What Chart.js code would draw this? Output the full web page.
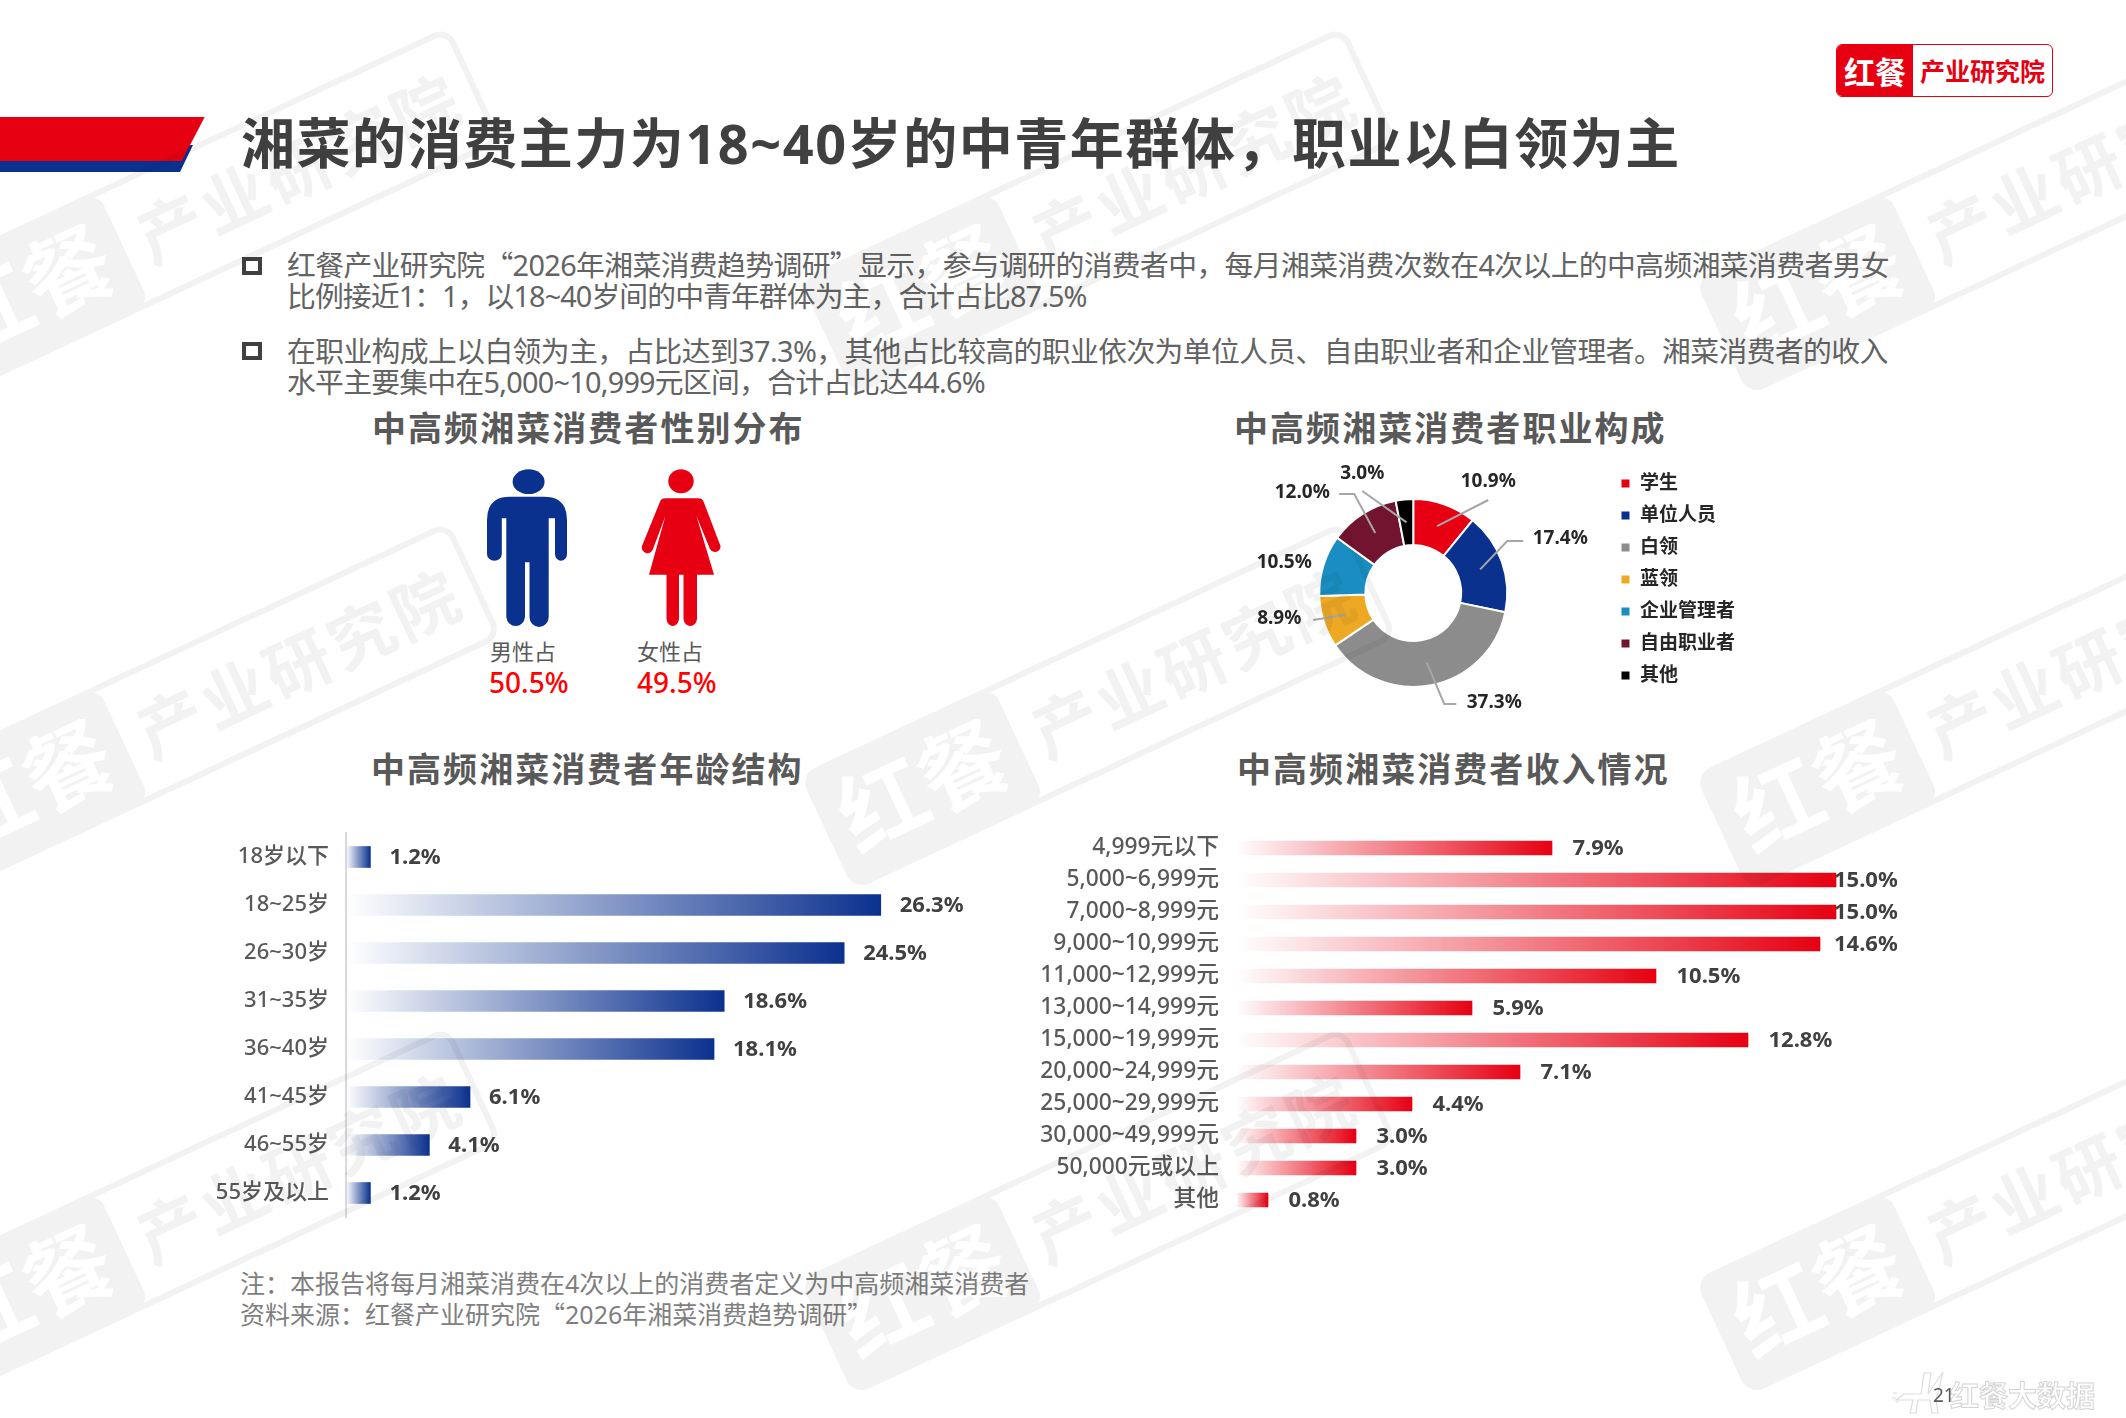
<!DOCTYPE html>
<html lang="zh-CN">
<head>
<meta charset="utf-8">
<title>湘菜的消费主力</title>
<script src="https://cdn.jsdelivr.net/npm/chart.js@4"></script>
<style>
html, body { margin: 0; padding: 0; background: #fff; }
body { width: 2126px; height: 1418px; position: relative; overflow: hidden; font-family: "Noto Sans", "Noto Sans CJK SC", sans-serif; }
.t { position: absolute; white-space: nowrap; line-height: 1; transform: translateY(-50%); }
.q { font-family: "Noto Sans CJK SC"; }
.title { left: 241px; top: 143px; font-size: 54px; font-weight: 700; color: #404040; letter-spacing: 1.55px; }
.body { left: 287px; font-size: 28.8px; color: #636363; letter-spacing: -.6px; }
.sub { font-size: 34px; font-weight: 700; color: #595959; letter-spacing: 2.05px; }
.note { left: 240px; font-size: 25px; color: #7f7f7f; }
.box { position: absolute; left: 242px; width: 12px; height: 10px; border: 4px solid #404040; }
canvas { position: absolute; display: block; }
svg { position: absolute; left: 0; top: 0; }
#wm { mix-blend-mode: multiply; pointer-events: none; }
.logo { position: absolute; left: 1836px; top: 44px; width: 215px; height: 51px; border: 1.5px solid #e60012; border-radius: 6px; background: #fff; overflow: hidden; }
.logo b { position: absolute; top: 0; height: 51px; line-height: 51px; font-family: "Noto Sans CJK SC"; text-align: center; }
.logo .l { left: 0; width: 76px; background: #e60012; color: #fff; font-size: 31px; }
.logo .r { left: 76px; width: 139px; color: #e60012; font-size: 25px; }
</style>
</head>
<body>

<svg width="2126" height="1418">
  <polygon points="0,145 193,145 180,172 0,172" fill="#0b318f"/>
  <polygon points="0,117 204.7,117 181.7,161 0,161" fill="#e60012"/>
  <!-- 男 -->
  <ellipse cx="528.6" cy="481.7" rx="16" ry="12.4" fill="#0b318f"/>
  <path fill="#0b318f" d="M487 520 Q487 496.7 510 496.7 H544 Q567 496.7 567 520 V554 A6 6.7 0 0 1 555 554 V518.3 H548.7 V617 A9.6 10 0 0 1 529.5 617 V562.3 H525 V617 A9.4 10 0 0 1 506.3 617 V518.3 H501.8 V554 A7.4 6.7 0 0 1 487 554 Z"/>
  <!-- 女 -->
  <ellipse cx="681" cy="481.3" rx="12.7" ry="12" fill="#e60012"/>
  <path fill="#e60012" d="M703.6 501.7 L720.5 546 A5.6 5.6 0 0 1 710 549 L696.4 516 L714 574.7 H697 V619 A6.8 8 0 0 1 683.5 619 V574.7 H679 V619 A6.3 8 0 0 1 666.5 619 V574.7 H649 L665.4 516 L653 549 A5.6 5.6 0 0 1 642 546 L660 501.7 Q661 498.3 666 498.3 H698 Q702.5 498.3 703.6 501.7 Z"/>
</svg>

<div class="t title">湘菜的消费主力为18~40岁的中青年群体，职业以白领为主</div>

<div class="box" style="top:256.5px"></div>
<div class="t body" style="top:265px">红餐产业研究院<span class="q">“</span>2026年湘菜消费趋势调研<span class="q">”</span>显示，参与调研的消费者中，每月湘菜消费次数在4次以上的中高频湘菜消费者男女</div>
<div class="t body" style="top:295.5px;letter-spacing:-.89px">比例接近1：1，以18~40岁间的中青年群体为主，合计占比87.5%</div>
<div class="box" style="top:341.5px"></div>
<div class="t body" style="top:351px">在职业构成上以白领为主，占比达到37.3%，其他占比较高的职业依次为单位人员、自由职业者和企业管理者。湘菜消费者的收入</div>
<div class="t body" style="top:381.5px;letter-spacing:-.73px">水平主要集中在5,000~10,999元区间，合计占比达44.6%</div>

<div class="t sub" style="left:372px;top:428px">中高频湘菜消费者性别分布</div>
<div class="t sub" style="left:1234px;top:428px">中高频湘菜消费者职业构成</div>
<div class="t sub" style="left:371px;top:769px">中高频湘菜消费者年龄结构</div>
<div class="t sub" style="left:1237px;top:769px">中高频湘菜消费者收入情况</div>

<div class="t" style="left:490px;top:651px;font-size:22px;color:#595959">男性占</div>
<div class="t" style="left:637px;top:651px;font-size:22px;color:#595959">女性占</div>
<div class="t" style="left:489px;top:682px;font-size:28px;font-weight:500;color:#ff0000">50.5%</div>
<div class="t" style="left:637px;top:682px;font-size:28px;font-weight:500;color:#ff0000">49.5%</div>

<canvas id="jobChart" style="left:1219px;top:461px"></canvas>
<canvas id="ageChart" style="left:200px;top:793px"></canvas>
<canvas id="incomeChart" style="left:1000px;top:792px"></canvas>

<div class="t note" style="top:1283px">注：本报告将每月湘菜消费在4次以上的消费者定义为中高频湘菜消费者</div>
<div class="t note" style="top:1314px">资料来源：红餐产业研究院<span class="q">“</span>2026年湘菜消费趋势调研<span class="q">”</span></div>

<div class="logo"><b class="l">红餐</b><b class="r">产业研究院</b></div>

<svg width="2126" height="1418" style="pointer-events:none">
  <g fill="none" stroke="#dcdcdc" stroke-width="1.2">
    <path d="M1904 1394 H1921 L1924 1373 H1931 L1928 1394 L1943 1372 L1936 1400 L1938 1413 H1932 L1930 1400 H1918 L1916 1413 H1910 L1913 1400 H1896 Z"/>
    <path d="M1892 1398 h4 M1893 1393 h4 M1896 1402 h3"/>
  </g>
  <text x="1950" y="1407" font-size="29" font-weight="700" fill="#fff" stroke="#d4d4d4" stroke-width="1" font-family="Noto Sans CJK SC">红餐大数据</text>
</svg>
<div class="t" style="left:1933px;top:1395px;font-size:19px;color:#595959">21</div>

<svg id="wm" width="2126" height="1418"></svg>

<script>
// 职业构成
const jobLabels = ["学生", "单位人员", "白领", "蓝领", "企业管理者", "自由职业者", "其他"];
const jobValues = [10.9, 17.4, 37.3, 8.9, 10.5, 12.0, 3.0];
const jobColors = ["#e60012", "#0b318f", "#8c8c8c", "#eda924", "#1a8dc2", "#72142f", "#000000"];

// 年龄结构
const ageLabels = ["18岁以下", "18~25岁", "26~30岁", "31~35岁", "36~40岁", "41~45岁", "46~55岁", "55岁及以上"];
const ageValues = [1.2, 26.3, 24.5, 18.6, 18.1, 6.1, 4.1, 1.2];

// 收入情况
const incomeLabels = ["4,999元以下", "5,000~6,999元", "7,000~8,999元", "9,000~10,999元", "11,000~12,999元", "13,000~14,999元",
    "15,000~19,999元", "20,000~24,999元", "25,000~29,999元", "30,000~49,999元", "50,000元或以上", "其他"];
const incomeValues = [7.9, 15.0, 15.0, 14.6, 10.5, 5.9, 12.8, 7.1, 4.4, 3.0, 3.0, 0.8];

const fontStack = '"Noto Sans", "Noto Sans CJK SC", sans-serif';

// 引线: 相对圆心的折点和文字位置
const jobLeaders = [
    { bend: [[75, -93]], text: [75, -111] },
    { bend: [[94, -52], [110, -52]], text: [147, -54] },
    { bend: [[31, 111], [43, 111]], text: [81, 110] },
    { bend: [[-100, 27]], text: [-134, 26] },
    { bend: [], text: [-129, -30] },
    { bend: [[-59, -99], [-74, -99]], text: [-111, -100] },
    { bend: [[-51, -102]], text: [-51, -119] }
];

function gradientBar(rgb) {
    return function (c) {
        const chart = c.chart;
        if (!chart.chartArea || c.parsed === undefined) return "rgb(" + rgb + ")";
        const x0 = chart.scales.x.getPixelForValue(0);
        const x1 = chart.scales.x.getPixelForValue(c.parsed.x);
        const g = chart.ctx.createLinearGradient(x0, 0, x1, 0);
        g.addColorStop(0, "rgba(" + rgb + ",0)");
        g.addColorStop(1, "rgba(" + rgb + ",1)");
        return g;
    };
}

// 条形末端的数值
function valuePlugin(gap, maxX) {
    return {
        id: "values",
        afterDatasetsDraw(chart) {
            const ctx = chart.ctx;
            const meta = chart.getDatasetMeta(0);
            ctx.save();
            ctx.font = "700 22px " + fontStack;
            ctx.fillStyle = "#404040";
            ctx.textBaseline = "middle";
            meta.data.forEach((bar, i) => {
                const x = Math.min(bar.x + gap, maxX);
                ctx.fillText(chart.data.datasets[0].data[i].toFixed(1) + "%", x, bar.y + 1);
            });
            ctx.restore();
        }
    };
}

const leaderPlugin = {
    id: "leaders",
    afterDatasetsDraw(chart) {
        const ctx = chart.ctx;
        const arcs = chart.getDatasetMeta(0).data;
        ctx.save();
        arcs.forEach((arc, i) => {
            const a = jobLeaders[i];
            if (!a.bend.length) return;
            const p = arc.getCenterPoint();
            ctx.beginPath();
            ctx.moveTo(p.x, p.y);
            a.bend.forEach(b => ctx.lineTo(arc.x + b[0], arc.y + b[1]));
            ctx.strokeStyle = "#a6a6a6";
            ctx.lineWidth = 2;
            ctx.stroke();
        });
        ctx.font = "700 19px " + fontStack;
        ctx.fillStyle = "#262626";
        ctx.textAlign = "center";
        ctx.textBaseline = "middle";
        arcs.forEach((arc, i) => {
            const a = jobLeaders[i];
            ctx.fillText(jobValues[i].toFixed(1) + "%", arc.x + a.text[0], arc.y + a.text[1]);
        });
        ctx.restore();
    }
};

function barChart(id, labels, values, rgb, o) {
    const canvas = document.getElementById(id);
    canvas.width = o.width;
    canvas.height = o.height;
    return new Chart(canvas, {
        type: "bar",
        data: {
            labels: labels,
            datasets: [{ data: values, backgroundColor: gradientBar(rgb), barThickness: o.bar, borderWidth: 0 }]
        },
        options: {
            indexAxis: "y",
            responsive: false,
            animation: false,
            layout: { padding: { top: 40, bottom: 40, right: o.right, left: 0 } },
            plugins: { legend: { display: false }, tooltip: { enabled: false } },
            scales: {
                x: { display: false, min: 0, max: o.max },
                y: {
                    afterFit(s) { s.width = o.axis; },
                    grid: { display: false, drawTicks: false },
                    border: o.line ? { display: true, color: "#d9d9d9", width: 2 } : { display: false },
                    ticks: { color: "#595959", padding: o.pad, font: { family: fontStack, size: o.tick, weight: 500 } }
                }
            }
        },
        plugins: [valuePlugin(o.gap, o.maxLabel)]
    });
}

barChart("ageChart", ageLabels, ageValues, "11,49,143", {
    width: 800, height: 464, right: 44, axis: 146, max: 30,
    bar: 21, pad: 17, tick: 22, line: true, gap: 19, maxLabel: 9999
});

barChart("incomeChart", incomeLabels, incomeValues, "230,0,18", {
    width: 1000, height: 464, right: 44, axis: 236, max: 18,
    bar: 14, pad: 17, tick: 22.8, line: false, gap: 20.5, maxLabel: 834
});

const jobCanvas = document.getElementById("jobChart");
jobCanvas.width = 526;
jobCanvas.height = 264;
new Chart(jobCanvas, {
    type: "doughnut",
    data: {
        labels: jobLabels,
        datasets: [{ data: jobValues, backgroundColor: jobColors, borderColor: "#fff", borderWidth: 2, radius: 94, cutout: "51%" }]
    },
    options: {
        responsive: false,
        animation: false,
        plugins: {
            tooltip: { enabled: false },
            legend: {
                position: "right",
                align: "start",
                labels: {
                    boxWidth: 10, boxHeight: 10, padding: 13, color: "#262626",
                    font: { family: fontStack, size: 19, weight: 700 }
                }
            }
        }
    },
    plugins: [leaderPlugin]
});

// 水印: 每块以右上角定位
const wmCorners = [[447, 30], [1342, 30], [2237, 30], [447, 525], [1342, 525], [2237, 525], [447, 1030], [1342, 1030], [2237, 1030]];
let wm = "";
wmCorners.forEach(c => {
    wm += '<g transform="translate(' + c[0] + ',' + c[1] + ') rotate(-25)">'
        + '<rect x="-594" y="0" width="209" height="122" rx="14" fill="#f2f2f2"/>'
        + '<rect x="-594" y="0" width="594" height="122" rx="14" fill="none" stroke="#f2f2f2" stroke-width="6"/>'
        + '<text x="-490" y="92" text-anchor="middle" font-size="88" font-weight="700" fill="#fff" font-family="Noto Sans CJK SC">红餐</text>'
        + '<text x="-192" y="88" text-anchor="middle" font-size="66" font-weight="700" letter-spacing="4" fill="#f2f2f2" font-family="Noto Sans CJK SC">产业研究院</text>'
        + '</g>';
});
document.getElementById("wm").innerHTML = wm;
</script>
</body>
</html>
